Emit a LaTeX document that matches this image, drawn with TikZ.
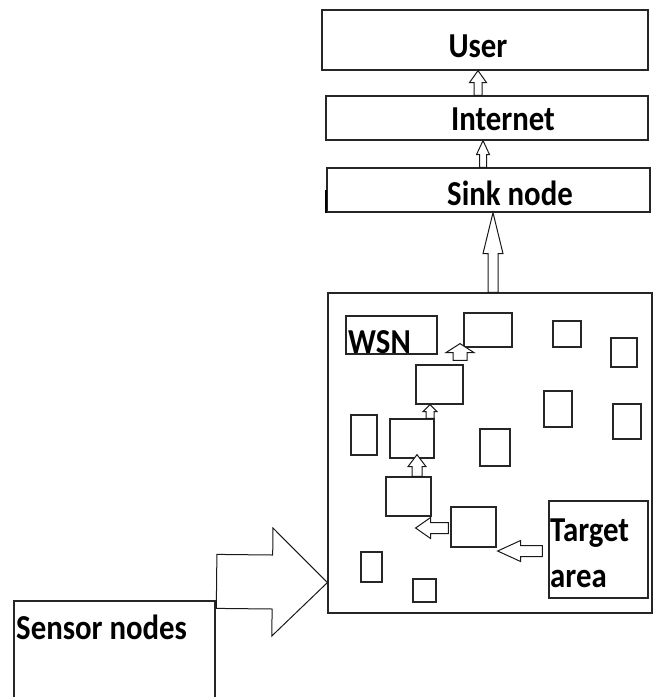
\documentclass[tikz,border=0pt]{standalone}
\usepackage{fontspec}
\setmainfont{Carlito}[FakeStretch=0.88]
\usetikzlibrary{positioning,calc}

% hollow block arrow: start, end, shaft half width, head half width, head length
\newcommand{\blockarrow}[5]{%
  \draw[blockarrow] let \p1=#1, \p2=#2,
      \n1={atan2(\y2-\y1,\x2-\x1)}, \n2={veclen(\x2-\x1,\y2-\y1)} in
    [shift={(\p1)}, rotate=\n1]
    (0,-#3) -- ({\n2-#5},-#3) -- ({\n2-#5},-#4) -- (\n2,0)
    -- ({\n2-#5},#4) -- ({\n2-#5},#3) -- (0,#3) -- cycle;}

\begin{document}
\begin{tikzpicture}[x=1pt, y=-1pt,
    box/.style={draw=black!85, line width=1.2pt, inner sep=0pt, fill=white},
    lbl/.style={font=\fontsize{35}{46}\selectfont\bfseries, inner sep=0pt, text=black},
    blockarrow/.style={draw=black!90, line width=1pt, fill=white}]

\useasboundingbox (0,0) rectangle (654,697);

% layers
\node[box, minimum width=326pt, minimum height=60pt] (user) at (485,40) {};
\node[box, minimum width=322pt, minimum height=44pt] (internet) at (487,118) {};
\node[box, minimum width=323pt, minimum height=44pt] (sink) at (488.5,190) {};
\draw[line width=1.8pt] ($(sink.south west)+(-0.5,0)$) -- ($(sink.west)+(-0.5,0)$);
\node[box, minimum width=324pt, minimum height=320pt] (wsn) at (490,453) {};
\node[box, minimum width=201pt, minimum height=99pt] (sensor) at (114.5,650.5) {};

\node[lbl, anchor=base] (usertxt) at (478,57) {User};
\node[lbl, anchor=base] (internettxt) at (503,130) {Internet};
\node[lbl, anchor=base] (sinktxt) at (510,205) {Sink node};
\node[lbl, anchor=base west] (sensortxt) at (16,639) {Sensor nodes};

% inside the WSN
\node[box, minimum width=91pt, minimum height=38pt] (wsnlbl) at (391.5,335) {};
\node[lbl, anchor=base west] (wsntxt) at (348,353) {WSN};
\node[box, minimum width=99pt, minimum height=97pt] (target) at (598.5,549.5) {};
\node[lbl, anchor=north west, align=left] (targettxt) at (550,519) {Target\\area};

\foreach \n/\x/\y/\w/\h in {a/488/330/48/34, b/567/334/28/26, c/624/352.5/26/29,
    d/439.5/384.5/47/39, e/558/409/28/36, f/627/421.5/28/35, g/364/435/26/40,
    h/412/438.5/44/39, i/495/447.5/30/37, j/408.5/496.5/45/39, k/473.5/527/45/40,
    l/371.5/567/21/30, m/424.5/590.5/23/23}
  \node[box, minimum width=\w pt, minimum height=\h pt] (\n) at (\x,\y) {};

% data flow
\blockarrow{([xshift=-9pt]internet.north)}{([xshift=-7pt]user.south)}{4}{8.5}{12}
\blockarrow{([xshift=-5.5pt]sink.north)}{([xshift=-4pt]internet.south)}{3.5}{6.5}{14}
\blockarrow{([xshift=3pt]wsn.north)}{([xshift=4.5pt]sink.south)}{5}{10}{41}
\blockarrow{([xshift=20.5pt,yshift=4pt]d.north)}{([xshift=-28pt,yshift=4pt]a.south)}{7}{14}{9}
\blockarrow{([xshift=18pt]h.north)}{([xshift=-9.5pt]d.south)}{4}{7}{7}
\blockarrow{([xshift=8.5pt]j.north)}{([xshift=5pt,yshift=4pt]h.south)}{5}{9}{12}
\blockarrow{($(k.west)+(-2,1)$)}{($(j.east |- k.west)+(-16,1)$)}{5.5}{10.5}{15}
\blockarrow{($(target.west)+(-6,1.5)$)}{($(k.east |- target.west)+(1,1.5)$)}{5.5}{10.5}{23}
\blockarrow{($(sensor.north east)+(1,-19)$)}{($(wsn.south west)+(0,-31)$)}{27}{54}{55}

\end{tikzpicture}
\end{document}
